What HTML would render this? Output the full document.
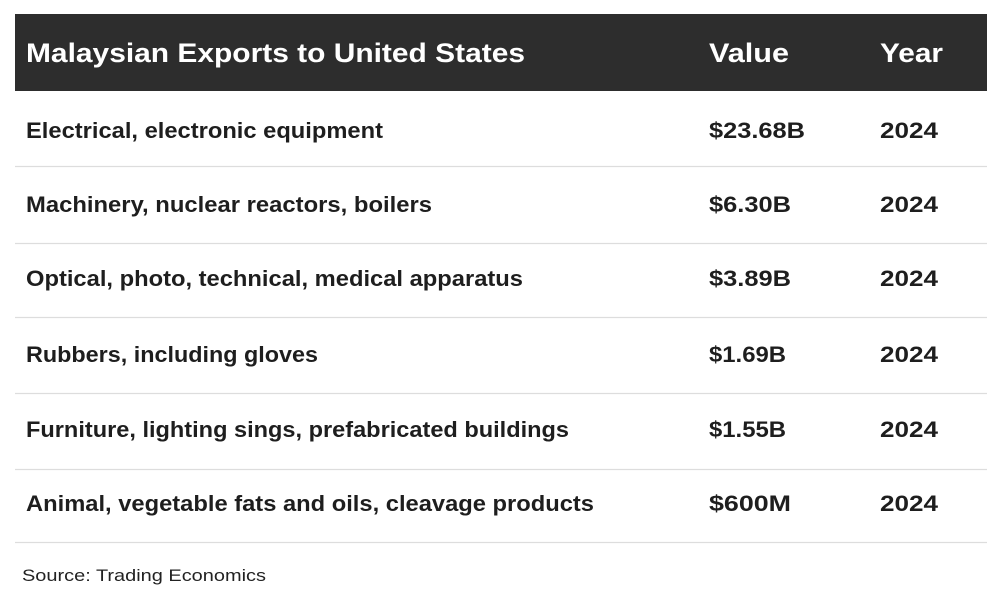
<!DOCTYPE html>
<html><head><style>body{margin:0;background:#fff}svg{display:block}</style></head><body>
<svg width="1000" height="600" xmlns="http://www.w3.org/2000/svg" font-family="Liberation Sans, Arial, sans-serif">
<rect x="15" y="14" width="972" height="77" fill="#2d2d2d"/>
<g fill="#fff" font-size="27" font-weight="bold">
<text x="26" y="62" textLength="499" lengthAdjust="spacingAndGlyphs">Malaysian Exports to United States</text>
<text x="709" y="62" textLength="80" lengthAdjust="spacingAndGlyphs">Value</text>
<text x="880" y="62" textLength="63" lengthAdjust="spacingAndGlyphs">Year</text>
</g>
<g stroke="#dddddd" stroke-width="1.3">
<line x1="15" x2="987" y1="166.5" y2="166.5"/><line x1="15" x2="987" y1="243.5" y2="243.5"/>
<line x1="15" x2="987" y1="317.5" y2="317.5"/><line x1="15" x2="987" y1="393.5" y2="393.5"/>
<line x1="15" x2="987" y1="469.5" y2="469.5"/><line x1="15" x2="987" y1="542.5" y2="542.5"/>
</g>
<g fill="#1e1e1e" font-size="22" font-weight="bold" lengthAdjust="spacingAndGlyphs">
<text x="26" y="138" textLength="357" lengthAdjust="spacingAndGlyphs">Electrical, electronic equipment</text>
<text x="709" y="138" textLength="96" lengthAdjust="spacingAndGlyphs">$23.68B</text>
<text x="880" y="138" textLength="58" lengthAdjust="spacingAndGlyphs">2024</text>
<text x="26" y="212" textLength="406" lengthAdjust="spacingAndGlyphs">Machinery, nuclear reactors, boilers</text>
<text x="709" y="212" textLength="82" lengthAdjust="spacingAndGlyphs">$6.30B</text>
<text x="880" y="212" textLength="58" lengthAdjust="spacingAndGlyphs">2024</text>
<text x="26" y="286" textLength="497" lengthAdjust="spacingAndGlyphs">Optical, photo, technical, medical apparatus</text>
<text x="709" y="286" textLength="82" lengthAdjust="spacingAndGlyphs">$3.89B</text>
<text x="880" y="286" textLength="58" lengthAdjust="spacingAndGlyphs">2024</text>
<text x="26" y="362" textLength="292" lengthAdjust="spacingAndGlyphs">Rubbers, including gloves</text>
<text x="709" y="362" textLength="77" lengthAdjust="spacingAndGlyphs">$1.69B</text>
<text x="880" y="362" textLength="58" lengthAdjust="spacingAndGlyphs">2024</text>
<text x="26" y="437" textLength="543" lengthAdjust="spacingAndGlyphs">Furniture, lighting sings, prefabricated buildings</text>
<text x="709" y="437" textLength="77" lengthAdjust="spacingAndGlyphs">$1.55B</text>
<text x="880" y="437" textLength="58" lengthAdjust="spacingAndGlyphs">2024</text>
<text x="26" y="511" textLength="568" lengthAdjust="spacingAndGlyphs">Animal, vegetable fats and oils, cleavage products</text>
<text x="709" y="511" textLength="82" lengthAdjust="spacingAndGlyphs">$600M</text>
<text x="880" y="511" textLength="58" lengthAdjust="spacingAndGlyphs">2024</text>
</g>
<text x="22" y="581" font-size="17" fill="#222" textLength="244" lengthAdjust="spacingAndGlyphs">Source: Trading Economics</text>
</svg>
</body></html>
